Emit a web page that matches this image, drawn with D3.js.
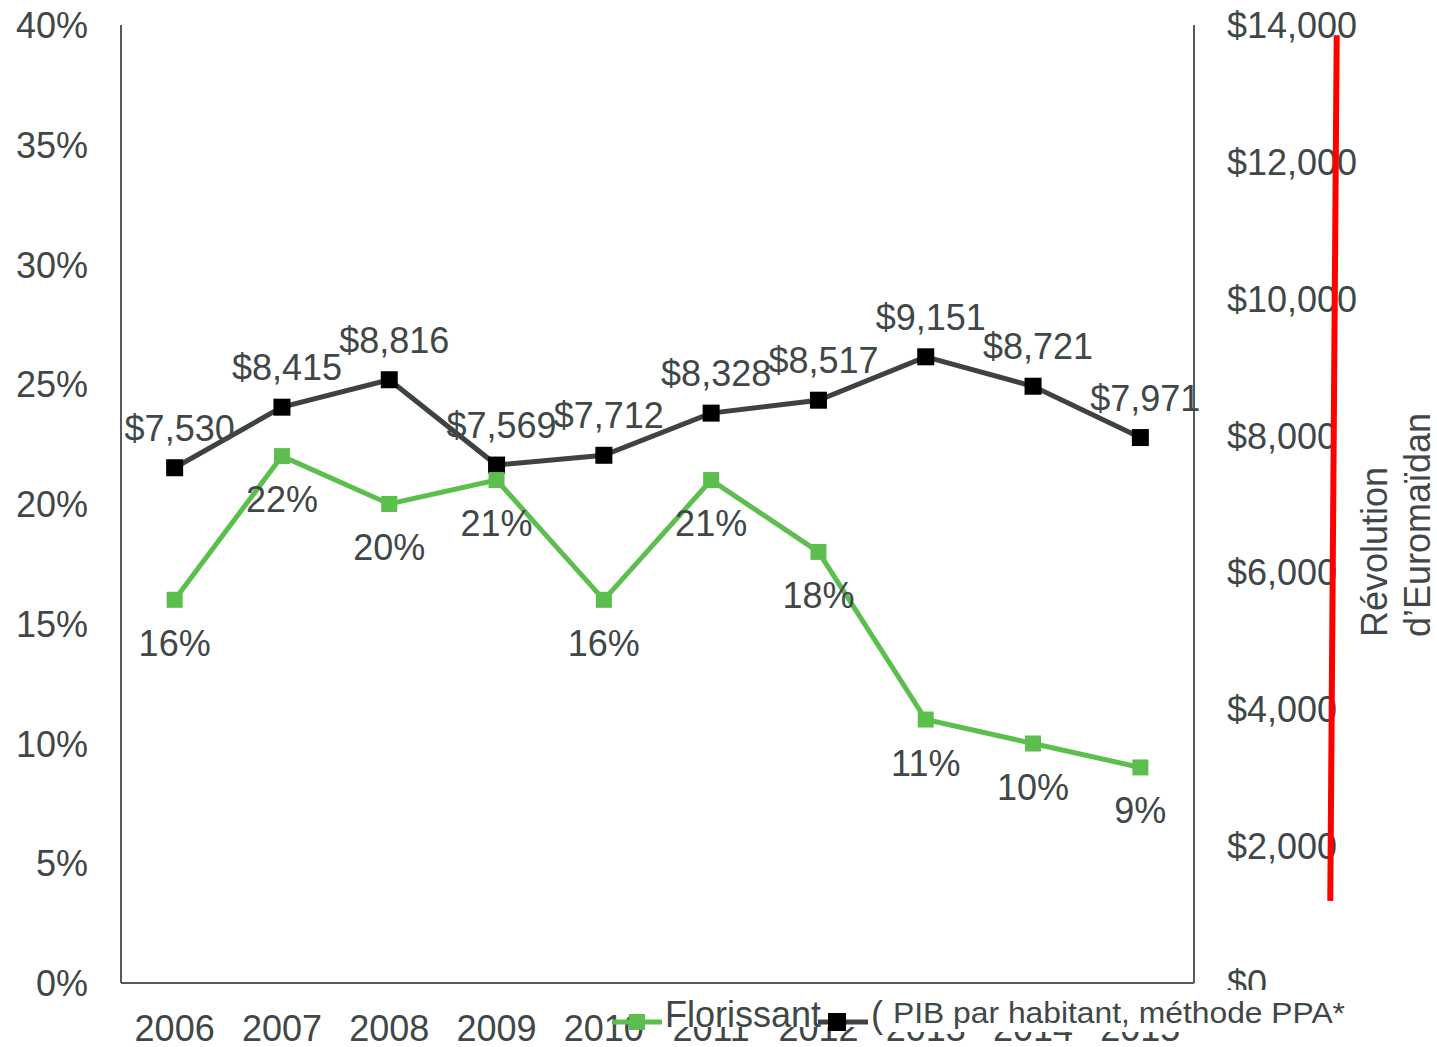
<!DOCTYPE html>
<html>
<head>
<meta charset="utf-8">
<script src="https://cdn.jsdelivr.net/npm/d3@7"></script>
<style>
  body { margin: 0; background: #fff; }
  svg text { font-family: "Liberation Sans", Arial, sans-serif; fill: #404747; }
</style>
</head>
<body>
<svg id="chart" width="1437" height="1047"></svg>
<script>
var years = ["2006", "2007", "2008", "2009", "2010", "2011", "2012", "2013", "2014", "2015"];
var florissant = [0.16, 0.22, 0.20, 0.21, 0.16, 0.21, 0.18, 0.11, 0.10, 0.09];
var pib = [7530, 8415, 8816, 7569, 7712, 8328, 8517, 9151, 8721, 7971];
var leftTicks = [0, 0.05, 0.10, 0.15, 0.20, 0.25, 0.30, 0.35, 0.40];
var rightTicks = [0, 2000, 4000, 6000, 8000, 10000, 12000, 14000];
// red marker line, x in category-index units, y in dollars
var revX = [10.77, 10.83];
var revY = [1200, 13850];
var legendNames = ["Florissant (", "PIB par habitant, méthode PPA*"];
var revLabel = ["Révolution", "d\u2019Euromaïdan"];

var svg = d3.select("#chart");
var plotL = 121, plotR = 1194, plotT = 25, plotB = 983;

var xi = d3.scaleLinear().domain([-0.5, 9.5]).range([plotL, plotR]);
var yL = d3.scaleLinear().domain([0, 0.4]).range([plotB, plotT]);
var yR = d3.scaleLinear().domain([0, 14000]).range([plotB, plotT]);

var fmtPct = d3.format(".0%");
var fmtUsd = function (v) { return "$" + d3.format(",")(v); };

// axes frame
var axisCol = "#595959";
svg.append("line").attr("x1", plotL).attr("x2", plotL).attr("y1", plotT).attr("y2", plotB)
  .attr("stroke", axisCol).attr("stroke-width", 2);
svg.append("line").attr("x1", plotR).attr("x2", plotR).attr("y1", plotT).attr("y2", plotB)
  .attr("stroke", axisCol).attr("stroke-width", 2);
svg.append("line").attr("x1", plotL).attr("x2", plotR).attr("y1", plotB).attr("y2", plotB)
  .attr("stroke", axisCol).attr("stroke-width", 2);

// left tick labels
svg.selectAll(".lt").data(leftTicks).enter().append("text")
  .attr("x", 88).attr("y", function (d) { return yL(d) + 13; })
  .attr("text-anchor", "end").style("font-size", "36px")
  .text(function (d) { return fmtPct(d); });

// right tick labels
svg.selectAll(".rt").data(rightTicks).enter().append("text")
  .attr("x", 1227).attr("y", function (d) { return yR(d) + 13; })
  .style("font-size", "36px")
  .text(function (d) { return fmtUsd(d); });

// x labels
svg.selectAll(".xt").data(years).enter().append("text")
  .attr("x", function (d, i) { return xi(i); }).attr("y", 1041)
  .attr("text-anchor", "middle").style("font-size", "36px")
  .text(function (d) { return d; });

// red line
var revPts = revX.map(function (v, i) { return [xi(v), yR(revY[i])]; });
svg.append("path").attr("d", d3.line()(revPts))
  .attr("stroke", "#ff0000").attr("stroke-width", 6).attr("fill", "none");

// rotated label
var rl = svg.append("g").attr("transform", "translate(1387,637) rotate(-90)");
rl.selectAll("text").data(revLabel).enter().append("text")
  .attr("x", 0).attr("y", function (d, i) { return i * 43; })
  .style("font-size", "36px").text(function (d) { return d; });

// series lines
var green = "#5cbf4d", dark = "#3d4242";
var lineL = d3.line().x(function (d, i) { return xi(i); }).y(function (d) { return yL(d); });
var lineR = d3.line().x(function (d, i) { return xi(i); }).y(function (d) { return yR(d); });

svg.append("path").attr("d", lineR(pib)).attr("fill", "none")
  .attr("stroke", dark).attr("stroke-width", 5);
svg.append("path").attr("d", lineL(florissant)).attr("fill", "none")
  .attr("stroke", green).attr("stroke-width", 5);

svg.selectAll(".mb").data(pib).enter().append("rect")
  .attr("x", function (d, i) { return xi(i) - 8.5; })
  .attr("y", function (d) { return yR(d) - 8.5; })
  .attr("width", 17).attr("height", 17).attr("fill", "#000");
svg.selectAll(".mg").data(florissant).enter().append("rect")
  .attr("x", function (d, i) { return xi(i) - 8; })
  .attr("y", function (d) { return yL(d) - 8; })
  .attr("width", 16).attr("height", 16).attr("fill", green);

// data labels
svg.selectAll(".lb").data(pib).enter().append("text")
  .attr("x", function (d, i) { return xi(i) + 5; })
  .attr("y", function (d) { return yR(d) - 27; })
  .attr("text-anchor", "middle").style("font-size", "36px")
  .text(function (d) { return fmtUsd(d); });
svg.selectAll(".lg").data(florissant).enter().append("text")
  .attr("x", function (d, i) { return xi(i); })
  .attr("y", function (d) { return yL(d) + 56; })
  .attr("text-anchor", "middle").style("font-size", "36px")
  .text(function (d) { return fmtPct(d); });

// legend (white boxes hide the upper part of the later year labels)
svg.append("rect").attr("x", 662).attr("y", 990).attr("width", 220).attr("height", 37).attr("fill", "#fff");

svg.append("line").attr("x1", 612).attr("x2", 662).attr("y1", 1022).attr("y2", 1022)
  .attr("stroke", green).attr("stroke-width", 5);
svg.append("rect").attr("x", 629).attr("y", 1014).attr("width", 16).attr("height", 16).attr("fill", green);
svg.append("text").attr("x", 665).attr("y", 1027).style("font-size", "36px")
  .style("white-space", "pre").text(legendNames[0].replace(" ", "     "));

svg.append("line").attr("x1", 818).attr("x2", 868).attr("y1", 1022).attr("y2", 1022)
  .attr("stroke", dark).attr("stroke-width", 5);
svg.append("rect").attr("x", 828).attr("y", 1013).attr("width", 18).attr("height", 18).attr("fill", "#000");

svg.append("rect").attr("x", 884).attr("y", 990).attr("width", 470).attr("height", 42).attr("fill", "#fff");
svg.append("text").attr("x", 893).attr("y", 1023).style("font-size", "29px")
  .attr("textLength", 452).attr("lengthAdjust", "spacingAndGlyphs")
  .text(legendNames[1]);
</script>
</body>
</html>
